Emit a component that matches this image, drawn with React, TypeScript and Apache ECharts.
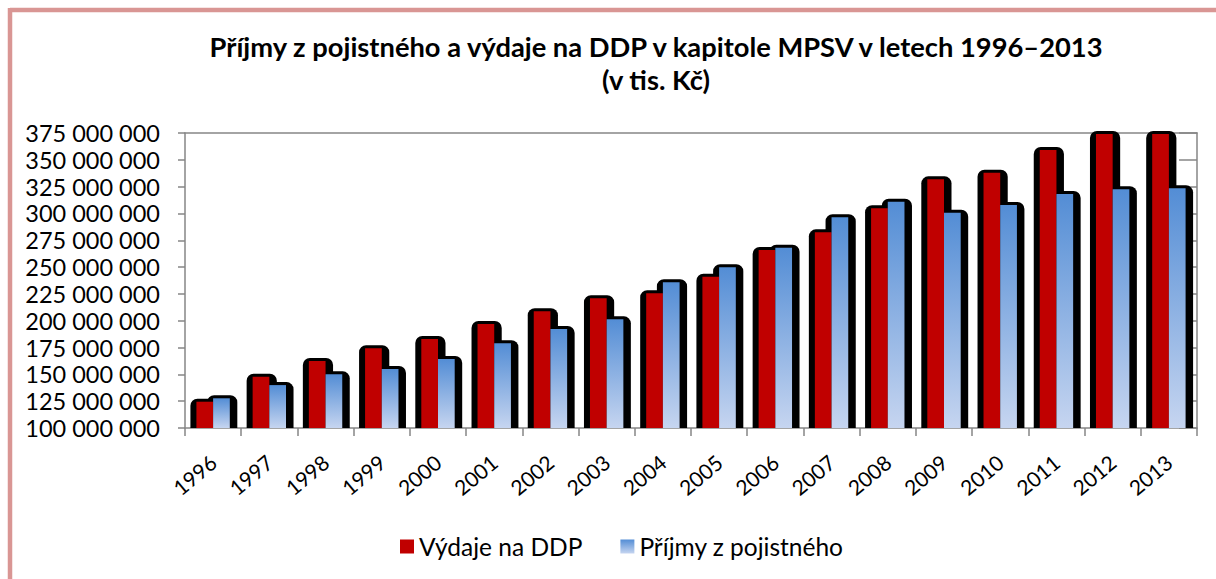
import React, { useEffect, useRef } from "react";
import * as echarts from "echarts";

const years = ["1996","1997","1998","1999","2000","2001","2002","2003","2004","2005","2006","2007","2008","2009","2010","2011","2012","2013"];
const vydajeDDP = [124500000,147800000,162500000,174300000,183000000,197000000,208800000,220900000,225600000,241000000,265900000,282400000,304800000,331800000,338000000,359200000,374000000,374000000];
const prijmyPojistne = [127700000,140000000,150000000,155000000,164300000,179000000,192300000,201300000,235800000,249800000,268000000,296400000,311000000,300700000,307900000,318100000,322500000,323400000];
const yMin = 100000000;
const yMax = 375000000;
const yStep = 25000000;
const seriesNames = ["Výdaje na DDP", "Příjmy z pojistného"];
const titleText = "Příjmy z pojistného a výdaje na DDP v kapitole MPSV v letech 1996–2013\n(v tis. Kč)";

const FONT = "Lato, 'Open Sans', sans-serif";
const CAT_GAP = 0.406;

function fmt(v: number) {
  return String(v).replace(/\B(?=(\d{3})+(?!\d))/g, " ");
}

function shadowSeries(values: number[], side: number) {
  return {
    type: "custom",
    silent: true,
    z: 1,
    xAxisIndex: 0,
    yAxisIndex: 0,
    data: values.map((v, i) => [i, v]),
    renderItem: (params: any, api: any) => {
      const i = api.value(0);
      const v = api.value(1);
      const base = api.coord([i, yMin]);
      const top = api.coord([i, v]);
      const band = api.size([1, 0])[0];
      const bw = (band * (1 - CAT_GAP)) / 2;
      const x0 = side === 0 ? base[0] - bw : base[0];
      return {
        type: "rect",
        shape: { x: x0 - 6, y: top[1] - 3, width: bw + 13.5, height: base[1] - top[1] + 3, r: [7, 7, 0, 0] },
        style: { fill: "#000" },
      };
    },
  };
}

export default function App() {
  const ref = useRef<HTMLDivElement>(null);
  useEffect(() => {
    if (!ref.current) return;
    const chart = echarts.init(ref.current, null, { renderer: "svg" });
    const axisGray = "#868686";
    chart.setOption({
      animation: false,
      backgroundColor: "#fff",
      title: {
        text: titleText,
        left: 651,
        top: 25,
        textAlign: "center",
        textStyle: { fontFamily: FONT, fontSize: 27.3, fontWeight: "bold", color: "#000", lineHeight: 33 },
      },
      legend: {
        data: seriesNames,
        left: 400,
        top: 534,
        padding: 0,
        itemWidth: 14,
        itemHeight: 14,
        itemGap: 38,
        icon: "rect",
        textStyle: { fontFamily: FONT, fontSize: 24.5, color: "#000" },
      },
      grid: { left: 185, right: 19, top: 133, bottom: 151, containLabel: false },
      xAxis: [
        {
          type: "category",
          data: years,
          axisLine: { lineStyle: { color: axisGray, width: 1.5 } },
          axisTick: { show: true, length: 8, lineStyle: { color: axisGray, width: 1.5 } },
          axisLabel: { rotate: 40, margin: 31, fontFamily: FONT, fontSize: 21, color: "#000", interval: 0 },
        },
        {
          type: "category",
          data: years,
          position: "top",
          axisLine: { lineStyle: { color: axisGray, width: 1.5 } },
          axisTick: { show: false },
          axisLabel: { show: false },
        },
      ],
      yAxis: [
        {
          type: "value",
          min: yMin,
          max: yMax,
          interval: yStep,
          axisLine: { show: true, lineStyle: { color: axisGray, width: 1.5 } },
          axisTick: { show: true, length: 7, lineStyle: { color: axisGray, width: 1.5 } },
          splitLine: { show: false },
          axisLabel: { margin: 25, fontFamily: FONT, fontSize: 23.5, color: "#000", formatter: (v: number) => fmt(v) },
        },
        {
          type: "value",
          position: "right",
          min: yMin,
          max: yMax,
          interval: yStep,
          axisLine: { show: true, lineStyle: { color: axisGray, width: 1.5 } },
          axisTick: { show: true, inside: true, length: 18, lineStyle: { color: axisGray, width: 1.5 } },
          splitLine: { show: false },
          axisLabel: { show: false },
        },
      ],
      graphic: [
        { type: "line", shape: { x1: 10, y1: 10, x2: 1216, y2: 10 }, style: { stroke: "#D99694", lineWidth: 4.5 } },
        { type: "line", shape: { x1: 10, y1: 8, x2: 10, y2: 579 }, style: { stroke: "#D99694", lineWidth: 4.5 } },
      ],
      series: [
        shadowSeries(vydajeDDP, 0),
        shadowSeries(prijmyPojistne, 1),
        {
          name: seriesNames[0],
          type: "bar",
          z: 2,
          data: vydajeDDP,
          barGap: "0%",
          barCategoryGap: (CAT_GAP * 100).toFixed(1) + "%",
          itemStyle: { color: "#C00000" },
        },
        {
          name: seriesNames[1],
          type: "bar",
          z: 2,
          data: prijmyPojistne,
          barGap: "0%",
          barCategoryGap: (CAT_GAP * 100).toFixed(1) + "%",
          itemStyle: {
            color: new echarts.graphic.LinearGradient(0, 0, 0, 1, [
              { offset: 0, color: "#538DD5" },
              { offset: 1, color: "#C6D5F0" },
            ]),
          },
        },
      ],
    });
    return () => chart.dispose();
  }, []);
  return (
    <div style={{ position: "fixed", left: 0, top: 0, width: 1216, height: 579 }}>
      <div ref={ref} style={{ width: 1216, height: 579 }} />
    </div>
  );
}
